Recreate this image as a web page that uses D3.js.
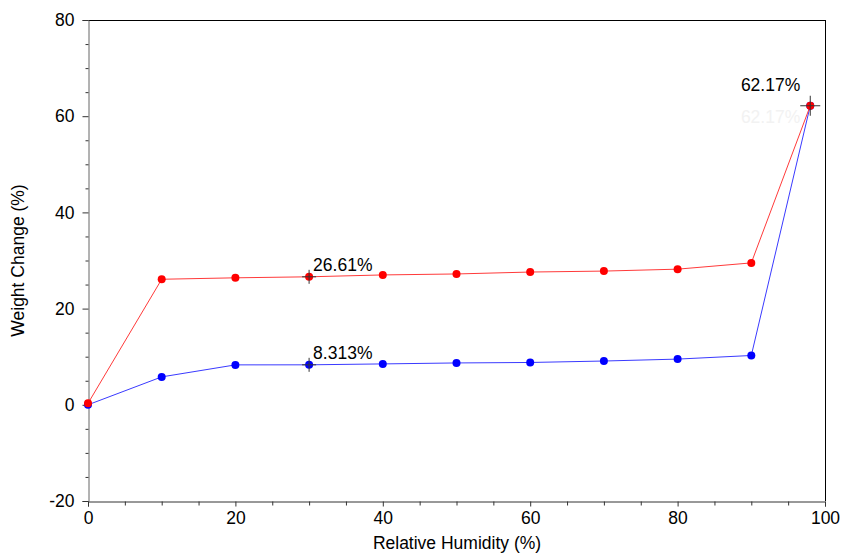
<!DOCTYPE html>
<html><head><meta charset="utf-8">
<script src="https://cdn.jsdelivr.net/npm/d3@7"></script>
<style>body{margin:0;background:#fff}svg{display:block;font-family:"Liberation Sans",Arial,sans-serif}</style>
</head><body><svg id="c" width="841" height="554"></svg>
<script>
const humidity = [0,10,20,30,40,50,60,70,80,90,98];
const sorption = [0.3,26.1,26.4,26.61,27.0,27.2,27.6,27.8,28.2,29.5,62.17];
const desorption = [0,5.8,8.3,8.313,8.5,8.7,8.8,9.1,9.5,10.25,62.17];
const xTicks = [0,20,40,60,80,100];
const yTicks = [-20,0,20,40,60,80];
const annotations = [
  {x:30, y:26.61, text:"26.61%"},
  {x:30, y:8.313, text:"8.313%"},
  {x:98, y:62.17, text:"62.17%"}
];

const svg = d3.select("#c");
const L=88,R=825,T=20,B=501;
const FS=17.5;
const x = d3.scaleLinear().domain([0,100]).range([L,R]);
const y = d3.scaleLinear().domain([-20,80]).range([B,T]);

svg.append("line").attr("x1",L).attr("x2",R).attr("y1",T+0.5).attr("y2",T+0.5).attr("stroke","#000");
svg.append("line").attr("x1",R+0.5).attr("x2",R+0.5).attr("y1",T).attr("y2",B).attr("stroke","#000");

const minorX = d3.range(0,101,5).filter(v=>v%20!==0);
const minorY = d3.range(-20,81,5).filter(v=>v%20!==0);
const gx = svg.append("g").attr("transform",`translate(0,${B+0.5})`)
  .call(d3.axisBottom(x).tickValues(xTicks).tickSize(5).tickPadding(5).tickFormat(d3.format("d")));
gx.select(".domain").attr("stroke","#333");
gx.selectAll(".tick line").attr("stroke","#333");
gx.selectAll("text").attr("font-size",FS).attr("fill","#000");
gx.selectAll(".minor").data(minorX).enter().append("line").attr("x1",d=>x(d)+0.5).attr("x2",d=>x(d)+0.5).attr("y1",0).attr("y2",4).attr("stroke","#333");

const gy = svg.append("g").attr("transform",`translate(${L+0.5},0)`)
  .call(d3.axisLeft(y).tickValues(yTicks).tickSize(6).tickPadding(8).tickFormat(d=>d<0?"-"+Math.abs(d):d));
gy.select(".domain").attr("stroke","#666");
gy.selectAll(".tick line").attr("stroke","#333");
gy.selectAll("text").attr("font-size",FS).attr("fill","#000");
gy.selectAll(".minor").data(minorY).enter().append("line").attr("y1",d=>y(d)+0.5).attr("y2",d=>y(d)+0.5).attr("x1",0).attr("x2",-3).attr("stroke","#333");

svg.append("text").attr("x",457).attr("y",549).attr("text-anchor","middle").attr("font-size",FS).text("Relative Humidity (%)");
svg.append("text").attr("transform",`translate(24,${(T+B)/2}) rotate(-90)`).attr("text-anchor","middle").attr("font-size",FS).text("Weight Change (%)");

const line = d3.line().x((d,i)=>x(humidity[i])).y(d=>y(d));
function series(vals,color,lineColor){
  svg.append("path").attr("d",line(vals)).attr("fill","none").attr("stroke",lineColor).attr("stroke-width",1);
  svg.selectAll(null).data(vals).enter().append("circle")
    .attr("cx",(d,i)=>x(humidity[i])).attr("cy",d=>y(d)).attr("r",4).attr("fill",color);
}
series(desorption,"#0000ff","#3a3aff");
series(sorption,"#ff0000","#ff3a3a");

const cross = [{x:30,y:26.61,s:7},{x:30,y:8.313,s:7},{x:98,y:62.17,s:10}];
cross.forEach(c=>{
  const cx=x(c.x), cy=y(c.y);
  svg.append("line").attr("x1",cx-c.s).attr("x2",cx+c.s).attr("y1",cy).attr("y2",cy).attr("stroke","#333");
  svg.append("line").attr("x1",cx).attr("x2",cx).attr("y1",cy-c.s).attr("y2",cy+c.s).attr("stroke","#333");
});

svg.append("text").attr("x",x(30)+4).attr("y",y(26.61)-6).attr("font-size",FS).text(annotations[0].text);
svg.append("text").attr("x",x(30)+4).attr("y",y(8.313)-6).attr("font-size",FS).text(annotations[1].text);
svg.append("text").attr("x",x(98)-10).attr("y",y(62.17)-15).attr("text-anchor","end").attr("font-size",FS).text(annotations[2].text);
svg.append("text").attr("x",x(98)-10).attr("y",y(62.17)+17).attr("text-anchor","end").attr("font-size",FS).attr("fill","#f2f2f2").text(annotations[2].text);
</script></body></html>
